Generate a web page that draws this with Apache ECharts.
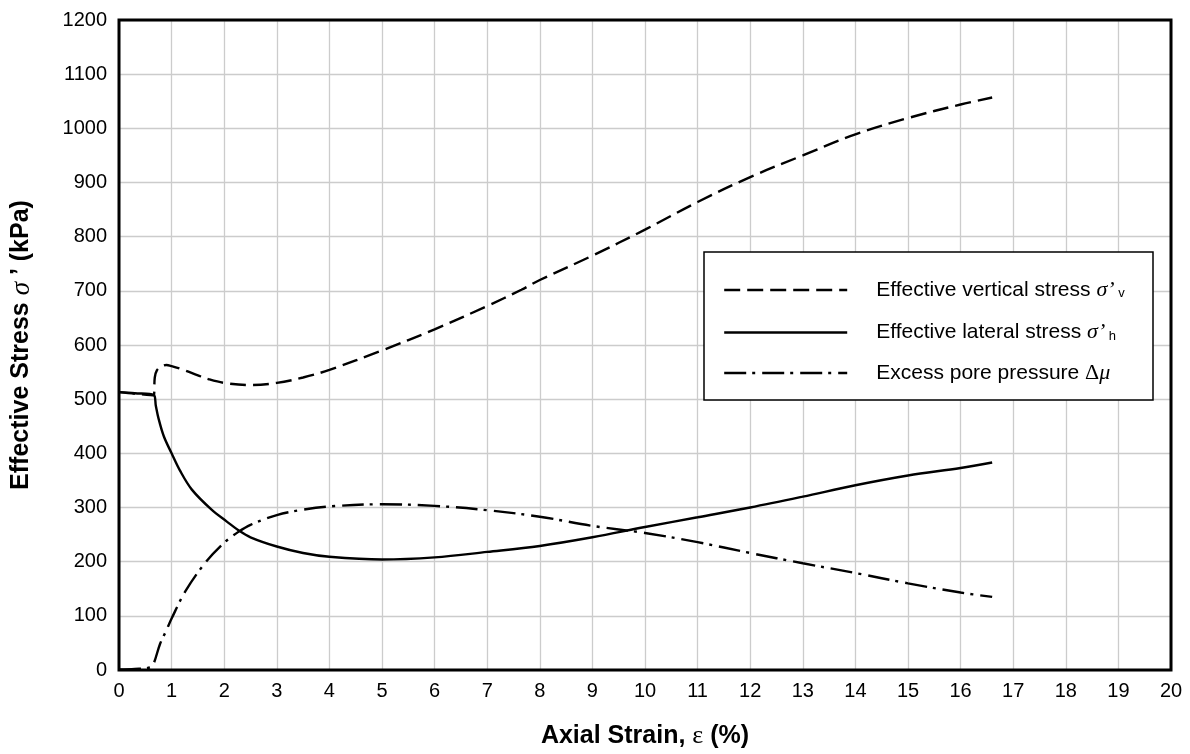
<!DOCTYPE html>
<html>
<head>
<meta charset="utf-8">
<script src="https://cdn.jsdelivr.net/npm/echarts@6/dist/echarts.min.js"></script>
<style>html,body{margin:0;padding:0;background:#fff}#c{width:1190px;height:754px}</style>
</head>
<body>
<div id="c"></div>
<script>
// Axis ticks
const xTicks = [0,1,2,3,4,5,6,7,8,9,10,11,12,13,14,15,16,17,18,19,20];
const yTicks = [0,100,200,300,400,500,600,700,800,900,1000,1100,1200];

// Effective vertical stress σ'v (dashed)
const vertX = [0,0.3,0.66,0.68,0.72,0.8,0.9,1.0,1.2,1.5,1.7,2.0,2.5,3.0,3.5,4.0,5.0,6.0,7.0,7.65,8,9,10,11,12,13,14,15,16,16.6];
const vertY = [513,510,507,540,553,560,563,561,555,544,537,530,526,530,540,554,590,629,672,702,720,765,813,864,910,950,989,1019,1044,1057];

// Effective lateral stress σ'h (solid)
const latX = [0,0.3,0.66,0.7,0.75,0.85,1.0,1.16,1.385,1.76,2.05,2.27,2.5,3.0,3.5,4.0,5.0,6.0,7.0,8,9,10,11,12,13,14,15,16,16.6];
const latY = [513,511,508,488,465,432,400,368,333,296,274,258,245,228,216,209,204,208,218,229,245,264,282,300,320,341,359,373,383];

// Excess pore pressure Δμ (dash-dot)
const poreX = [0,0.3,0.6,0.66,0.78,0.9,1.0,1.26,1.64,2.0,2.27,2.5,3.0,3.5,4,5,6,7,8,9,10,11,12,13,14,15,16,16.6];
const poreY = [1,2,5,12,48,73,95,145,198,235,255,268,286,296,302,306,303,295,283,266,253,236,216,197,179,160,143,135];

const pairs = (xs, ys) => xs.map((x, i) => [x, ys[i]]);

const chart = echarts.init(document.getElementById('c'), null, {renderer: 'canvas'});
const FONT = 'Liberation Sans, Arial, sans-serif';
const SERIF = 'Liberation Serif, DejaVu Serif, serif';

const names = ['vert', 'lat', 'pore'];
const legendText = {
  vert: 'Effective vertical stress {s|σ’}{sub| v}',
  lat: 'Effective lateral stress {s|σ’}{sub| h}',
  pore: 'Excess pore pressure {d|Δ}{s|μ}'
};

chart.setOption({
  animation: false,
  backgroundColor: '#fff',
  color: ['#000', '#000', '#000'],
  grid: {left: 117, top: 20, right: 19, bottom: 82, show: true, borderColor: '#000', borderWidth: 3, backgroundColor: 'transparent', z: 3},
  xAxis: {
    type: 'value', min: 0, max: 20, interval: 1,
    axisLine: {show: false}, axisTick: {show: false},
    axisLabel: {color: '#000', fontFamily: FONT, fontSize: 20, margin: 11, formatter: v => xTicks.includes(v) ? String(v) : ''},
    splitLine: {show: true, lineStyle: {color: '#cccccc', width: 1.3}},
    name: '{b|Axial Strain, }{e|ε}{b| (%)}', nameLocation: 'middle', nameGap: 53,
    nameTextStyle: {rich: {
      b: {fontFamily: FONT, fontWeight: 'bold', fontSize: 25, color: '#000'},
      e: {fontFamily: SERIF, fontSize: 26, color: '#000'}
    }}
  },
  yAxis: {
    type: 'value', min: 0, max: 1200, interval: 100,
    axisLine: {show: false}, axisTick: {show: false},
    axisLabel: {color: '#000', fontFamily: FONT, fontSize: 20, margin: 12, formatter: v => yTicks.includes(v) ? String(v) : ''},
    splitLine: {show: true, lineStyle: {color: '#cccccc', width: 1.3}},
    name: '{b|Effective Stress }{s|σ}{b| ’ (kPa)}', nameLocation: 'middle', nameGap: 84,
    nameTextStyle: {rich: {
      b: {fontFamily: FONT, fontWeight: 'bold', fontSize: 25, color: '#000'},
      s: {fontFamily: SERIF, fontStyle: 'italic', fontSize: 27, color: '#000'}
    }}
  },
  graphic: [{
    type: 'rect', z: 50,
    shape: {x: 704, y: 252, width: 449, height: 148},
    style: {fill: '#fff', stroke: '#000', lineWidth: 1.5}
  }],
  legend: {
    orient: 'vertical', left: 704, top: 252, z: 60,
    padding: [25, 10, 10, 19],
    itemWidth: 123, itemHeight: 14, itemGap: 18.5,
    data: names,
    formatter: n => legendText[n],
    itemStyle: {opacity: 0},
    lineStyle: {width: 2.4, color: '#000'},
    textStyle: {
      fontFamily: FONT, fontSize: 21, color: '#000', lineHeight: 20, padding: [0, 0, 0, 24],
      rich: {
        s: {fontFamily: SERIF, fontStyle: 'italic', fontSize: 22, color: '#000', lineHeight: 20},
        d: {fontFamily: SERIF, fontSize: 22, color: '#000', lineHeight: 20},
        sub: {fontFamily: FONT, fontSize: 13, color: '#000', verticalAlign: 'bottom', lineHeight: 20, padding: [10, 0, 0, 0]}
      }
    }
  },
  series: [
    {name: 'vert', type: 'line', data: pairs(vertX, vertY), showSymbol: false, symbol: 'none', smooth: 0.35, z: 5,
     itemStyle: {color: '#000'}, lineStyle: {color: '#000', width: 2.4, type: [16, 7]}},
    {name: 'lat', type: 'line', data: pairs(latX, latY), showSymbol: false, symbol: 'none', smooth: 0.35, z: 5,
     itemStyle: {color: '#000'}, lineStyle: {color: '#000', width: 2.4, type: 'solid'}},
    {name: 'pore', type: 'line', data: pairs(poreX, poreY), showSymbol: false, symbol: 'none', smooth: 0.35, z: 5,
     itemStyle: {color: '#000'}, lineStyle: {color: '#000', width: 2.4, type: [22, 6, 3, 7]}}
  ]
});
</script>
</body>
</html>
